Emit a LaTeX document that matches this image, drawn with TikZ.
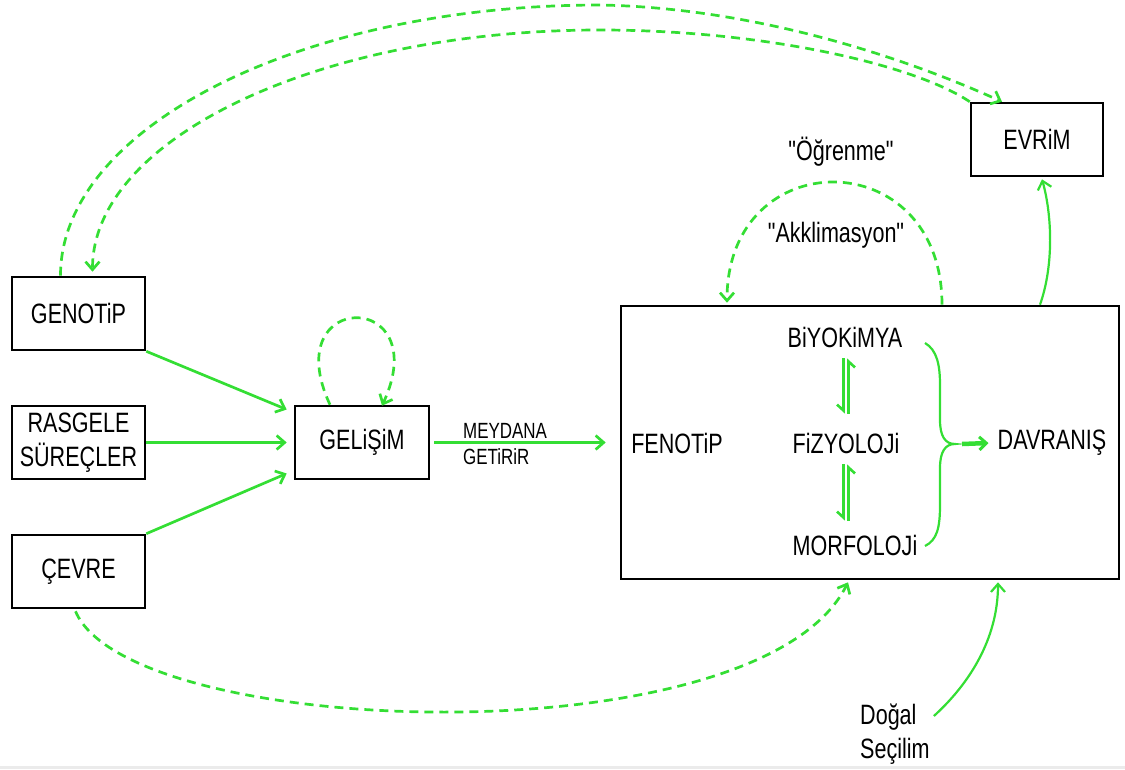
\documentclass[tikz,border=0pt]{standalone}
\usepackage{fontspec}
\setmainfont{Liberation Sans}[FakeStretch=0.77,Ligatures=TeXOff]
\usetikzlibrary{arrows.meta,calc}
\definecolor{lgreen}{RGB}{52,222,52}

\begin{document}
\begin{tikzpicture}[x=1pt,y=1pt,
  every node/.style={font=\fontsize{28}{34}\selectfont},
  box/.style={draw=black,line width=2.6pt,minimum width=133pt,minimum height=73pt,
    inner sep=0pt,align=center},
  txt/.style={inner sep=0pt,align=center},
  gline/.style={draw=lgreen,line width=2.7pt},
  garrow/.style={gline,-{Straight Barb[length=8pt,width=14pt]}},
  gdash/.style={garrow,dash pattern=on 9pt off 6pt},
  hp/.style={gline,line width=2.6pt,-{Straight Barb[right,length=6pt,width=13pt]}}]

\useasboundingbox (0,0) rectangle (1125,-769);
\fill[black!8] (0,-766) rectangle (1125,-769);

% boxes
\node[box] (gen) at (78.5,-313.5) {GENOTiP};
\node[box] (ras) at (78.5,-442.5) {RASGELE\\SÜREÇLER};
\node[box] (cev) at (78.5,-571.5) {ÇEVRE};
\node[box,minimum width=134pt] (gel) at (362,-442.5) {GELiŞiM};
\node[box,minimum width=498pt,minimum height=273pt] (fen) at (870,-442.5) {};
\node[box,minimum width=132pt] (evr) at (1037,-139.5) {EVRiM};

% labels inside the phenotype box
\node[txt] (fenl) at (677,-443) {FENOTiP};
\node[txt] (bio) at (845,-337) {BiYOKiMYA};
\node[txt] (fiz) at (846,-443) {FiZYOLOJi};
\node[txt] (mor) at (855,-545) {MORFOLOJi};
\node[txt] (dav) at (1052,-443) {DAVRANIŞ};

% free labels
\node[txt] (ogr) at (841,-152) {"Öğrenme"};
\node[txt] (akk) at (836,-235) {"Akklimasyon"};
\node[txt,anchor=west,align=left,font=\fontsize{22}{26}\selectfont] (mey) at (463,-444) {MEYDANA\\GETiRiR};
\node[txt,anchor=west,align=left] (dog) at (860,-734) {Doğal\\Seçilim};

% inputs to development
\draw[garrow] (gen.south east) -- ($(gel.west)+(-7,33)$);
\draw[garrow] (ras.east) -- ($(gel.west)+(-7,0)$);
\draw[garrow] (cev.north east) -- ($(gel.west)+(-7,-31)$);

% development feeds back on itself
\draw[gdash] ($(gel.north)+(-32,0)$) .. controls (276,-289) and (436,-289) .. ($(gel.north)+(20,-1)$);

% development produces the phenotype
\draw[garrow] ($(gel.east)+(4,0)$) -- ($(fen.west)+(-14,0)$);

% reversible links between levels (a pair of harpoons each)
\coordinate (hx) at (846,0);
\draw[hp] ($(bio.south -| hx)+(-2.5,-11)$) -- ($(fiz.north -| hx)+(-2.5,19)$);
\draw[hp] ($(fiz.north -| hx)+(2.5,19)$) -- ($(bio.south -| hx)+(2.5,-11)$);
\draw[hp] ($(fiz.south -| hx)+(-2.5,-11)$) -- ($(mor.north -| hx)+(-2.5,14)$);
\draw[hp] ($(mor.north -| hx)+(2.5,14)$) -- ($(fiz.south -| hx)+(2.5,-11)$);

% brace gathering the three levels into behaviour
\draw[gline,line width=2.2pt] (925,-343) .. controls (937,-350) and (940,-365) .. (940,-385)
  -- (940,-420) .. controls (940,-436) and (945,-444) .. (955,-444)
  .. controls (945,-444) and (940,-452) .. (940,-468)
  -- (940,-505) .. controls (940,-528) and (937,-540) .. (925,-546);
\coordinate (brt) at (955,-444);
\draw[gline,line width=4.5pt,-{Straight Barb[length=7pt,width=13pt,line width=3pt]}]
  ($(brt)+(7,0)$) -- ($(dav.west)+(-9,0)$);

% acclimation / learning loop
\draw[gdash] ($(fen.north)+(72,0)$) .. controls (942,-142) and (727,-142) .. ($(fen.north)+(-143,2)$);

% phenotype to evolution
\draw[garrow,line width=2.2pt] ($(fen.north)+(170,0)$) .. controls (1054,-265) and (1052,-215) .. ($(evr.south)+(5,-2)$);

% environment acts on the phenotype
\draw[gdash] ($(cev.south)+(-3,-2)$) .. controls (130,-740) and (760,-760) .. ($(fen.south)+(-22,-2)$);

% natural selection
\draw[garrow,line width=2.2pt] ($(dog.east)+(4,18)$) .. controls (968,-685) and (998,-640) .. ($(fen.south)+(128,-2)$);

% genotype <-> evolution
\draw[gdash] ($(gen.north)+(-18,0)$) .. controls (60.5,-127) and (302,-5) .. (600,-5)
  .. controls (760,-8) and (910,-60) .. ($(evr.north)+(-35,0)$);
\draw[gdash] (evr.north west) .. controls (915,-65) and (765,-30) .. (600,-30)
  .. controls (320,-30) and (92.5,-138) .. ($(gen.north)+(14,4)$);

\end{tikzpicture}
\end{document}
